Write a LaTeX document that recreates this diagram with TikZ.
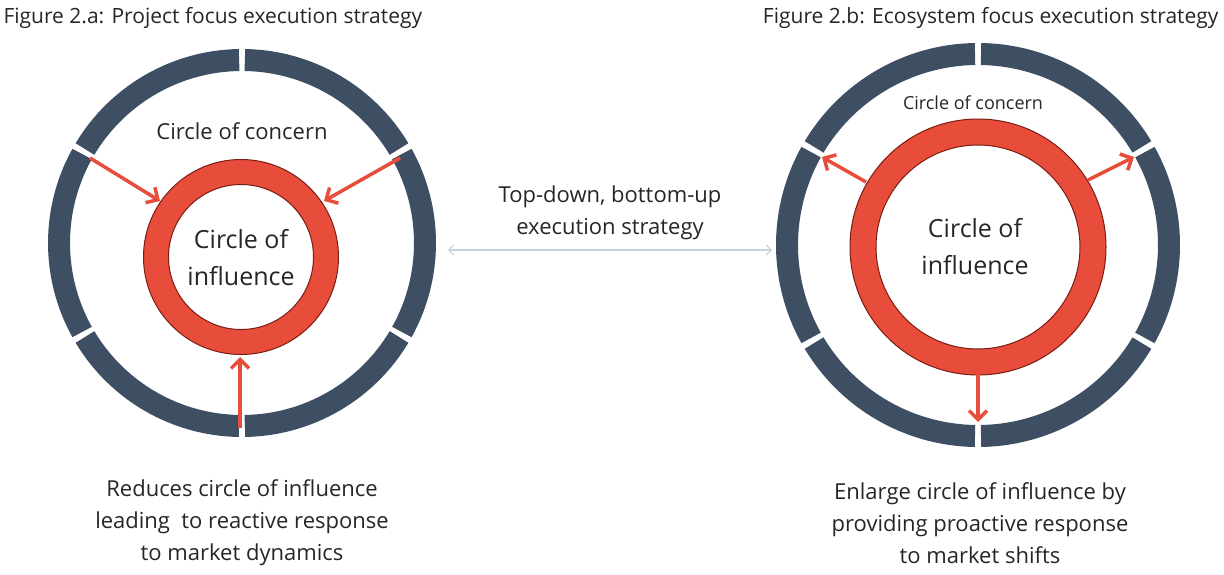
\documentclass[tikz,border=0pt]{standalone}
\usepackage{fontspec}
\setmainfont{Open Sans}
\usetikzlibrary{arrows.meta,calc}
\definecolor{ring}{HTML}{3F4F63}
\definecolor{rred}{HTML}{E84C3A}
\definecolor{dred}{HTML}{7A1E14}
\definecolor{lgray}{HTML}{C9D3DD}
\begin{document}
\begin{tikzpicture}[x=1pt,y=-1pt,
  seg/.style={draw=ring,line width=22pt},
  arr/.style={draw=rred,line width=3.5pt,-{Straight Barb[length=9pt,width=18pt]}},
  txt/.style={font=\fontsize{22}{32}\selectfont,align=center,text=black!85},
  ttl/.style={font=\fontsize{21}{26}\selectfont,text=black!85}]
\useasboundingbox (0,0) rectangle (1224,575);
% left
\coordinate (L) at (242,243);
\foreach \a in {30,90,150,210,270,330}{
  \draw[seg] ($(L)+(\a+0.9:183)$) arc[start angle=\a+0.9,end angle=\a+59.1,radius=183];}
\coordinate (LR) at (241,257);
\fill[rred,draw=dred,line width=1pt,even odd rule] (LR) circle[radius=97.5] (LR) circle[radius=72.5];
\node[txt] (lc) at (242,131) {Circle of concern};
\node[txt,font=\fontsize{25}{37}\selectfont] (li) at (241,258) {Circle of\\influence};
\coordinate (la1) at (90,158); \coordinate (la1e) at (160,201);
\coordinate (la2) at (400,158); \coordinate (la2e) at (324,201);
\coordinate (la3) at (240,428); \coordinate (la3e) at (240,357);
\draw[arr] (la1) -- (la1e); \draw[arr] (la2) -- (la2e); \draw[arr] (la3) -- (la3e);
\node[txt] (lt) at (242,523) {Reduces circle of influence\\leading\ \ to reactive response\\to market dynamics};
\node[ttl,anchor=west] (t1) at (0,18) {Figure 2.a: Project focus execution strategy};
% right
\coordinate (R) at (978,245);
\foreach \a in {30,90,150,210,270,330}{
  \draw[seg] ($(R)+(\a+0.9:191)$) arc[start angle=\a+0.9,end angle=\a+59.1,radius=191];}
\coordinate (RR) at (978,247);
\fill[rred,draw=dred,line width=1pt,even odd rule] (RR) circle[radius=128] (RR) circle[radius=102];
\node[txt,font=\fontsize{18}{22}\selectfont] (rc) at (973,103) {Circle of concern};
\node[txt,font=\fontsize{25}{37}\selectfont] (ri) at (975,247) {Circle of\\influence};
\coordinate (ra1) at (866,182); \coordinate (ra1e) at (822,157);
\coordinate (ra2) at (1088,180); \coordinate (ra2e) at (1134,157);
\coordinate (ra3) at (978,374); \coordinate (ra3e) at (978,422);
\draw[arr] (ra1) -- (ra1e); \draw[arr] (ra2) -- (ra2e); \draw[arr] (ra3) -- (ra3e);
\node[txt] (rt) at (980,523) {Enlarge circle of influence by\\providing proactive response\\to market shifts};
\node[ttl,anchor=east] (t2) at (1222,18) {Figure 2.b: Ecosystem focus execution strategy};
% middle
\coordinate (m1) at (448,250); \coordinate (m2) at (772,250);
\draw[lgray,line width=1.2pt,{Straight Barb[length=5pt,width=10pt]}-{Straight Barb[length=5pt,width=10pt]}] (m1) -- (m2);
\node[txt] (mt) at (610,213) {Top-down, bottom-up\\execution strategy};
\end{tikzpicture}
\end{document}
